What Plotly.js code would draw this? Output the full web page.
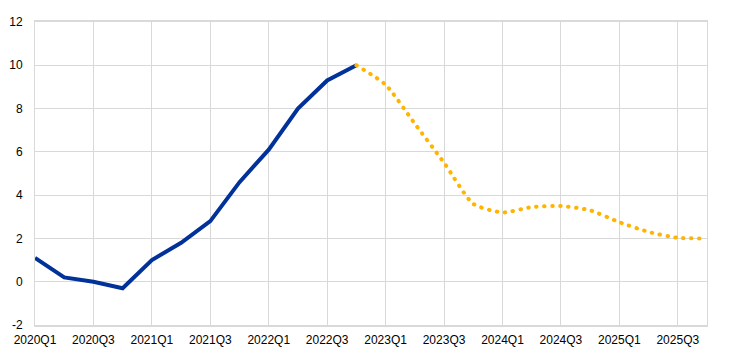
<!DOCTYPE html>
<html>
<head>
<meta charset="utf-8">
<script src="https://cdn.plot.ly/plotly-3.0.1.min.js"></script>
<style>
html,body{margin:0;padding:0;background:#fff;}
#chart{width:743px;height:354px;}
.scatterlayer .trace:nth-child(2) .js-line{stroke-linecap:round;}
</style>
</head>
<body>
<div id="chart"></div>
<script>
const quarters = ["2020Q1","2020Q2","2020Q3","2020Q4","2021Q1","2021Q2","2021Q3","2021Q4",
  "2022Q1","2022Q2","2022Q3","2022Q4","2023Q1","2023Q2","2023Q3","2023Q4",
  "2024Q1","2024Q2","2024Q3","2024Q4","2025Q1","2025Q2","2025Q3","2025Q4"];
const actual = [1.1,0.2,0.0,-0.3,1.0,1.8,2.8,4.6,6.1,8.0,9.3,10.0,
  null,null,null,null,null,null,null,null,null,null,null,null];
const projection = [null,null,null,null,null,null,null,null,null,null,null,10.0,
  9.1,7.3,5.5,3.6,3.2,3.45,3.5,3.3,2.75,2.3,2.03,2.0];
const yTicks = [-2,0,2,4,6,8,10,12];

const idx = quarters.map((q,i)=>i);
const tickIdx = idx.filter(i=>i%2===0);

const traces = [
  {x: idx, y: actual, type:'scatter', mode:'lines',
   line:{color:'#003299', width:4}, hoverinfo:'skip'},
  {x: idx, y: projection, type:'scatter', mode:'lines',
   line:{color:'#FFB400', width:4, dash:'0.5px,7.5px', shape:'spline', smoothing:0.6}, hoverinfo:'skip'}
];

const layout = {
  width:743, height:354,
  margin:{l:35, r:36, t:22, b:29},
  paper_bgcolor:'#fff', plot_bgcolor:'#fff',
  showlegend:false,
  font:{family:'Liberation Sans, Arial, sans-serif', size:12, color:'#000'},
  xaxis:{
    range:[0,23], tickvals:tickIdx, ticktext:tickIdx.map(i=>quarters[i]),
    showgrid:true, gridcolor:'#d9d9d9', gridwidth:1,
    showline:true, linecolor:'#d9d9d9', linewidth:2, mirror:true,
    zeroline:false, ticks:'outside', ticklen:3, tickcolor:'rgba(0,0,0,0)',
    tickfont:{size:12}, fixedrange:true
  },
  yaxis:{
    range:[-2,12], tickvals:yTicks, ticktext:yTicks.map(String),
    showgrid:true, gridcolor:'#d9d9d9', gridwidth:1,
    showline:true, linecolor:'#d9d9d9', linewidth:1, mirror:true,
    zeroline:false, ticks:'outside', ticklen:9, tickcolor:'rgba(0,0,0,0)',
    tickfont:{size:12}, fixedrange:true
  }
};

Plotly.newPlot('chart', traces, layout, {staticPlot:true, displayModeBar:false});
</script>
</body>
</html>
